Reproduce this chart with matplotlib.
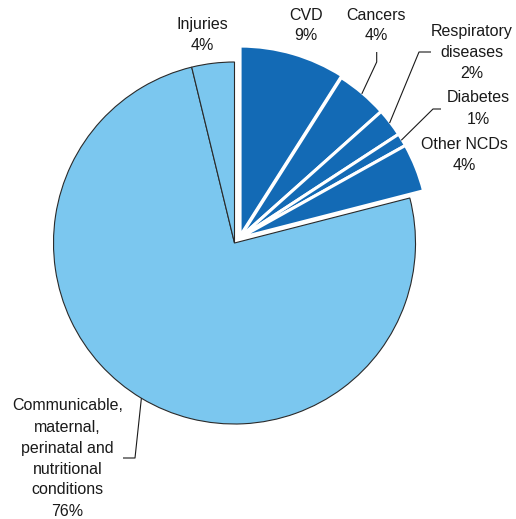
import numpy as np
import matplotlib
matplotlib.use('Agg')
from matplotlib import pyplot as plt

# share of deaths by cause (pie order: clockwise from 12 o'clock)
causes = ['CVD', 'Cancers', 'Respiratory\ndiseases', 'Diabetes', 'Other NCDs',
          'Communicable,\nmaternal,\nperinatal and\nnutritional\nconditions', 'Injuries']
shares = [9.0, 4.4, 2.4, 1.1, 4.1, 75.2, 3.8]
pct_labels = ['9%', '4%', '2%', '1%', '4%', '76%', '4%']
is_ncd = [True, True, True, True, True, False, False]

light = '#7bc7ef'
dark = '#136ab5'

W, H = 516, 519
fig = plt.figure(figsize=(W / 100, H / 100), dpi=100)
ax = fig.add_axes([0, 0, 1, 1])

plt.rcParams['font.family'] = ['Liberation Sans', 'DejaVu Sans']

c_light = (234.5, H - 243)
r_light = 181
c_dark = (239.5, H - 238)
r_dark = 190

# light slices with thin dark outline
w1, _ = ax.pie(shares, colors=[light] * len(shares), startangle=90, counterclock=False,
               center=c_light, radius=r_light, frame=True,
               wedgeprops=dict(edgecolor='#2a2a2a', linewidth=0.8))
# NCD slices pulled out, separated by white gaps
w2, _ = ax.pie(shares, colors=[dark] * len(shares), startangle=90, counterclock=False,
               center=c_dark, radius=r_dark, frame=True,
               explode=[2, 0, 0, 0, 0, 0, 0],
               wedgeprops=dict(edgecolor='white', linewidth=2.2))
for i, ncd in enumerate(is_ncd):
    w1[i].set_visible(not ncd)
    w2[i].set_visible(ncd)
ax.set_xlim(0, W)
ax.set_ylim(0, H)
ax.set_aspect('equal')
ax.axis('off')

fs = 11.5
# label centres (pixels from top-left)
label_pos = [(306, 25.5), (376, 25.5), (472, 52.5), (478, 108.5), (464, 155), (67.5, 458.5), (202, 34.5)]
for cause, pct, (px, py) in zip(causes, pct_labels, label_pos):
    ax.text(px, H - py, cause + '\n' + pct, ha='center', va='center',
            fontsize=fs, linespacing=1.5, color='#1a1a1a')

# leader lines: elbow points, end at the middle of the slice's outer arc
bounds = np.cumsum([0] + shares)
def arc_point(i, center, r):
    mid = 90 - 3.6 * (bounds[i] + bounds[i + 1]) / 2
    a = np.radians(mid)
    return center[0] + r * np.cos(a), center[1] + r * np.sin(a)

leaders = {1: [(376.7, 52), (376.7, 62)],
           2: [(431, 52), (419, 52)],
           3: [(441, 109), (433, 109)],
           5: [(123, 458), (135, 458)]}
for i, pts in leaders.items():
    if is_ncd[i]:
        end = arc_point(i, c_dark, r_dark - 1)
    else:
        end = arc_point(i, c_light, r_light)
    xs = [p[0] for p in pts] + [end[0]]
    ys = [H - p[1] for p in pts] + [end[1]]
    ax.plot(xs, ys, color='#1a1a1a', linewidth=0.8, solid_capstyle='butt')

fig.savefig('out.png', dpi=100)
